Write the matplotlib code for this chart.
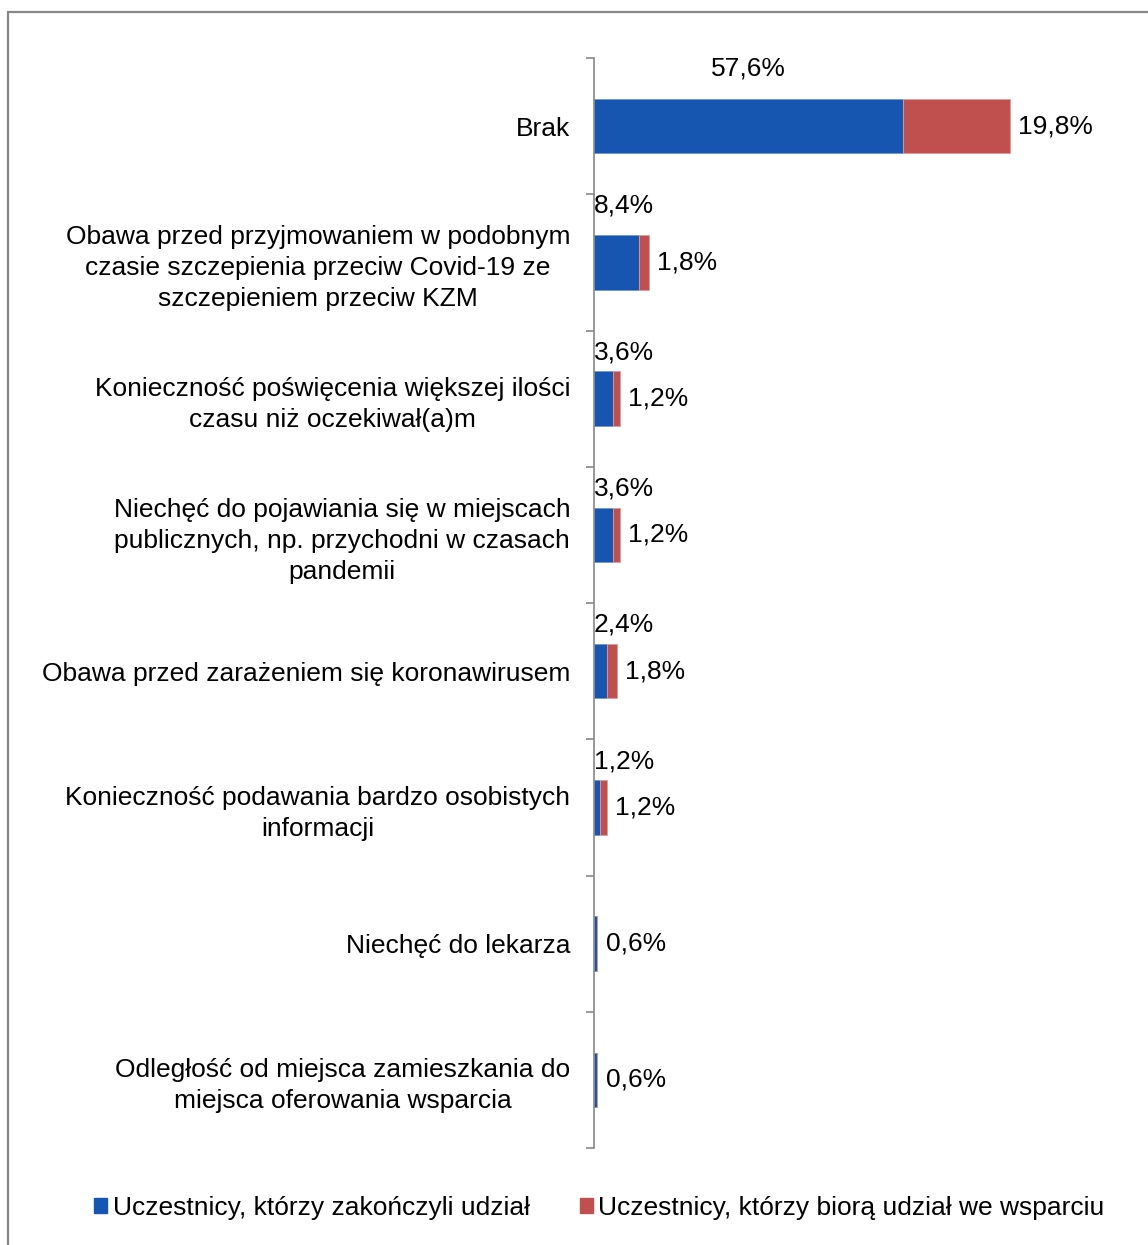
import matplotlib.pyplot as plt
from matplotlib.patches import Rectangle

plt.rcParams['font.family'] = ['Liberation Sans', 'DejaVu Sans']

categories = [
    "Brak",
    "Obawa przed przyjmowaniem w podobnym\nczasie szczepienia przeciw Covid-19 ze\nszczepieniem przeciw KZM",
    "Konieczność poświęcenia większej ilości\nczasu niż oczekiwał(a)m",
    "Niechęć do pojawiania się w miejscach\npublicznych, np. przychodni w czasach\npandemii",
    "Obawa przed zarażeniem się koronawirusem",
    "Konieczność podawania bardzo osobistych\ninformacji",
    "Niechęć do lekarza",
    "Odległość od miejsca zamieszkania do\nmiejsca oferowania wsparcia",
]
completed = [57.6, 8.4, 3.6, 3.6, 2.4, 1.2, 0.6, 0.6]
ongoing = [19.8, 1.8, 1.2, 1.2, 1.8, 1.2, 0.0, 0.0]
series_names = ["Uczestnicy, którzy zakończyli udział",
                "Uczestnicy, którzy biorą udział we wsparciu"]

BLUE = "#1655b0"
RED = "#c0504d"
GRAY = "#878787"
FS = 19


def pct(v):
    return f"{v:.1f}%".replace(".", ",")


fig = plt.figure(figsize=(11.48, 12.45), dpi=100)
ax = fig.add_axes([0.5174, 0.0779, 0.4678, 0.8755])

y = list(range(len(categories)))
ax.barh(y, completed, height=0.4, color=BLUE, edgecolor="#6f97d3", linewidth=0.6)
ax.barh(y, ongoing, height=0.4, left=completed, color=RED, edgecolor="#e09a98", linewidth=0.6)

ax.set_xlim(0, 100)
ax.set_ylim(len(categories) - 0.5, -0.5)

# values of the first series sit above the bars
for i, v in enumerate(completed):
    if ongoing[i] == 0:
        continue
    if i == 0:
        ax.text(v / 2, i - 0.42, pct(v), ha="center", va="center", fontsize=FS)
    else:
        dy = 0.42 if i == 1 else 0.34
        ax.text(0, i - dy, pct(v), ha="left", va="center", fontsize=FS)

# values of the second series (or the single value) to the right of the bar end
for i in range(len(categories)):
    v = ongoing[i] if ongoing[i] > 0 else completed[i]
    ax.annotate(pct(v), (completed[i] + ongoing[i], i), xytext=(6, 0),
                textcoords="offset points", ha="left", va="center", fontsize=FS)

ax.set_yticks(y)
ax.set_yticklabels(categories, fontsize=FS, linespacing=1.37)
for lab in ax.get_yticklabels():
    lab.set_multialignment("center")
ax.tick_params(axis="y", which="major", length=0, pad=17)
ax.set_yticks([i - 0.5 for i in range(len(categories) + 1)], minor=True)
ax.tick_params(axis="y", which="minor", length=6, width=1.2, color=GRAY, direction="out")

ax.set_xticks([])
for side in ["top", "right", "bottom"]:
    ax.spines[side].set_visible(False)
ax.spines["left"].set_color(GRAY)
ax.spines["left"].set_linewidth(1.2)

handles = [Rectangle((0, 0), 1, 1, color=BLUE), Rectangle((0, 0), 1, 1, color=RED)]
fig.legend(handles, series_names, loc="center", bbox_to_anchor=(0.522, 0.0297),
           ncol=2, frameon=False, fontsize=FS, handlelength=0.5, handleheight=0.5,
           handletextpad=0.2, columnspacing=1.9)

# chart frame
fig.patches.append(Rectangle((8 / 1148, -0.5), 1.5, 0.5 + 1 - 12 / 1245,
                             transform=fig.transFigure, fill=False,
                             edgecolor=GRAY, linewidth=1.6))

fig.savefig("out.png", dpi=100)
